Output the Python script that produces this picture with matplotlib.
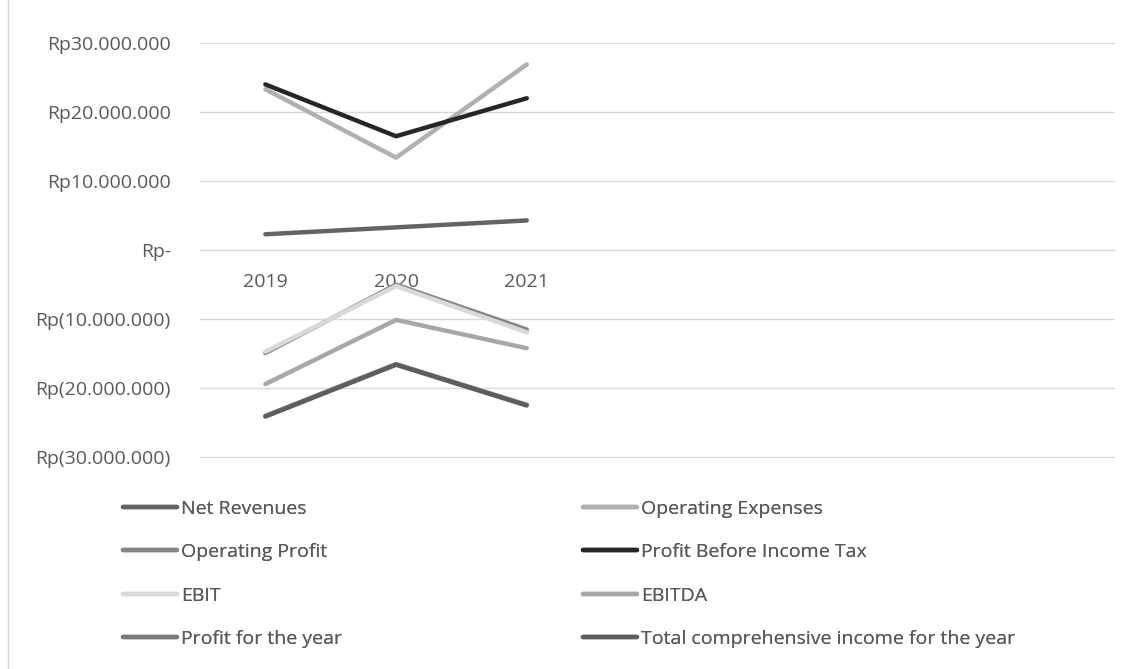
import matplotlib
matplotlib.use("Agg")
import matplotlib.pyplot as plt
from matplotlib.lines import Line2D

plt.rcParams['font.family'] = ['Open Sans', 'DejaVu Sans']

categories = ["2019", "2020", "2021", "", "", "", ""]

net_revenues = [2.3e6, 3.3e6, 4.3e6]
operating_expenses = [23.3e6, 13.4e6, 26.9e6]
operating_profit = [-14.9e6, -5.0e6, -11.5e6]
profit_before_tax = [24.0e6, 16.5e6, 22.0e6]
ebit = [-14.7e6, -5.2e6, -11.9e6]
ebitda = [-19.4e6, -10.1e6, -14.2e6]
profit_for_year = [-24.0e6, -16.5e6, -22.4e6]
total_comprehensive = [-24.1e6, -16.6e6, -22.5e6]

series = [
    ("Net Revenues", net_revenues, "#636363"),
    ("Operating Expenses", operating_expenses, "#b0b0b0"),
    ("Operating Profit", operating_profit, "#858585"),
    ("Profit Before Income Tax", profit_before_tax, "#262626"),
    ("EBIT", ebit, "#d9d9d9"),
    ("EBITDA", ebitda, "#a8a8a8"),
    ("Profit for the year", profit_for_year, "#7a7a7a"),
    ("Total comprehensive income for the year", total_comprehensive, "#5e5e5e"),
]

yticks = [30e6, 20e6, 10e6, 0, -10e6, -20e6, -30e6]
ytick_labels = ["Rp30.000.000", "Rp20.000.000", "Rp10.000.000", "Rp-",
                "Rp(10.000.000)", "Rp(20.000.000)", "Rp(30.000.000)"]

FS = 14
TXT = '#595959'
W, H = 1128, 669
fig = plt.figure(figsize=(W / 100, H / 100), dpi=100)
ax = fig.add_axes([200 / W, 1 - 458 / H, (1115 - 200) / W, (458 - 43) / H])

x = list(range(len(categories)))
handles = {}
for name, vals, col in series:
    h, = ax.plot(x[:len(vals)], vals, color=col, lw=3.2, solid_capstyle='round',
                 solid_joinstyle='round', label=name)
    handles[name] = h

ax.set_xlim(-0.5, len(categories) - 0.5)
ax.set_ylim(-30.1e6, 30e6)
ax.set_yticks(yticks)
ax.set_yticklabels(ytick_labels)
ax.set_xticks(x)
ax.set_xticklabels(categories)
ax.grid(axis='y', color='#d9d9d9', lw=1)
ax.set_axisbelow(True)
for s in ['top', 'right', 'left']:
    ax.spines[s].set_visible(False)
ax.spines['bottom'].set_position(('data', 0))
ax.spines['bottom'].set_color('#d9d9d9')
ax.tick_params(axis='both', length=0, labelcolor=TXT, labelsize=FS)
ax.tick_params(axis='y', pad=21)
ax.tick_params(axis='x', pad=16.5)

left_names = ["Net Revenues", "Operating Profit", "EBIT", "Profit for the year"]
right_names = ["Operating Expenses", "Profit Before Income Tax", "EBITDA",
               "Total comprehensive income for the year"]
for names, xpos in ((left_names, 123), (right_names, 583)):
    leg = fig.legend([handles[n] for n in names], names, ncol=1,
                     loc='upper left', bbox_to_anchor=(xpos / W, 1 - 500 / H),
                     frameon=False, fontsize=FS, handlelength=2.8, handletextpad=0.18,
                     labelspacing=1.3, borderpad=0, borderaxespad=0)
    for t in leg.get_texts():
        t.set_color(TXT)
    fig.add_artist(leg)

fig.add_artist(Line2D([8 / W, 8 / W], [0, 1], transform=fig.transFigure,
                      color='#d9d9d9', lw=1))

fig.savefig("out.png", dpi=100)
